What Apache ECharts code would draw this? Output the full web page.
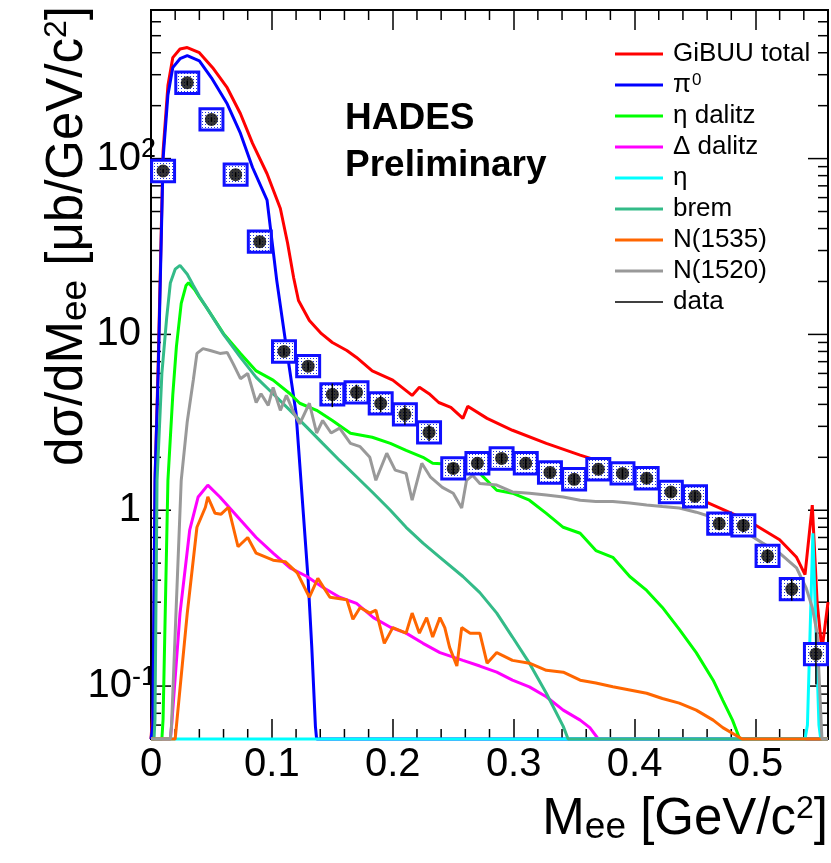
<!DOCTYPE html>
<html>
<head>
<meta charset="utf-8">
<script src="https://cdn.jsdelivr.net/npm/echarts@6/dist/echarts.min.js"></script>
<style>
  html, body { margin: 0; padding: 0; background: #fff; }
  #chart { width: 831px; height: 863px; }
</style>
</head>
<body>
<div id="chart"></div>
<script>
const FONT = '"Liberation Sans", Arial, Helvetica, sans-serif';
const X_MIN = 0, X_MAX = 0.56;
const Y_MIN = 0.05, Y_MAX = 700;

// GiBUU dielectron spectra, points are [M_ee (GeV/c^2), dsigma/dM_ee (ub/GeV/c^2)]
const gibuuTotal = [
  [0.000, 0], [0.002, 0.08], [0.0035, 1.6], [0.006, 7], [0.010, 110], [0.014, 260],
  [0.018, 375], [0.024, 420], [0.030, 428], [0.040, 400], [0.051, 329], [0.063, 253],
  [0.074, 180], [0.084, 122], [0.096, 82], [0.107, 52], [0.113, 33], [0.118, 21],
  [0.122, 15.6], [0.131, 12.0], [0.141, 10.1], [0.150, 9.0], [0.162, 8.1], [0.170, 7.4],
  [0.183, 6.2], [0.200, 5.5], [0.216, 4.5], [0.222, 5.0], [0.230, 4.6], [0.238, 4.1],
  [0.248, 3.85], [0.258, 3.33], [0.262, 3.9], [0.278, 3.33], [0.299, 2.85], [0.327, 2.4],
  [0.355, 2.06], [0.382, 1.80], [0.410, 1.54], [0.437, 1.30], [0.465, 1.07], [0.493, 0.88],
  [0.520, 0.68], [0.534, 0.54], [0.541, 0.43], [0.547, 1.07], [0.551, 0.30], [0.555, 0.16],
  [0.560, 0.30]
];
const pi0 = [
  [0.000, 0], [0.0015, 0.06], [0.0033, 1.5], [0.006, 6.2], [0.010, 100], [0.014, 230],
  [0.018, 329], [0.024, 370], [0.030, 385], [0.040, 360], [0.050, 288], [0.063, 205],
  [0.074, 139], [0.084, 89], [0.096, 58], [0.104, 20.3], [0.112, 8.4], [0.120, 3.56],
  [0.126, 0.96], [0.130, 0.40], [0.133, 0.166], [0.136, 0.059], [0.137, 0], [0.560, 0]
];
const etaDalitz = [
  [0.000, 0], [0.009, 0], [0.010, 0.065], [0.014, 1.48], [0.018, 4.5], [0.021, 8.5],
  [0.025, 15], [0.029, 19], [0.031, 19.7], [0.036, 18], [0.040, 16.3], [0.046, 14.2],
  [0.060, 10.1], [0.074, 7.8], [0.087, 6.2], [0.101, 5.5], [0.115, 4.6], [0.123, 4.06],
  [0.137, 3.7], [0.150, 3.24], [0.165, 2.74], [0.183, 2.6], [0.198, 2.4], [0.211, 2.19],
  [0.225, 2.0], [0.233, 1.85], [0.240, 1.84], [0.247, 1.69], [0.255, 1.55], [0.261, 1.69],
  [0.272, 1.62], [0.286, 1.30], [0.299, 1.25], [0.313, 1.14], [0.327, 0.96], [0.341, 0.80],
  [0.355, 0.74], [0.368, 0.59], [0.382, 0.54], [0.396, 0.42], [0.410, 0.35], [0.423, 0.28],
  [0.437, 0.21], [0.451, 0.155], [0.465, 0.108], [0.473, 0.083], [0.481, 0.064],
  [0.487, 0.05], [0.488, 0], [0.560, 0]
];
const deltaDalitz = [
  [0.000, 0], [0.016, 0], [0.017, 0.059], [0.024, 0.26], [0.032, 0.77], [0.039, 1.19],
  [0.047, 1.39], [0.057, 1.19], [0.074, 0.88], [0.087, 0.70], [0.101, 0.57], [0.115, 0.47],
  [0.129, 0.42], [0.142, 0.365], [0.156, 0.32], [0.170, 0.295], [0.184, 0.245],
  [0.198, 0.216], [0.211, 0.20], [0.225, 0.175], [0.239, 0.155], [0.258, 0.14],
  [0.272, 0.13], [0.286, 0.12], [0.299, 0.108], [0.313, 0.099], [0.327, 0.087],
  [0.341, 0.073], [0.355, 0.064], [0.363, 0.058], [0.370, 0.05], [0.371, 0], [0.560, 0]
];
const etaDirect = [
  [0.000, 0], [0.541, 0], [0.543, 0.06], [0.5475, 0.74], [0.5525, 0.06], [0.554, 0], [0.560, 0]
];
const brem = [
  [0.000, 0], [0.0025, 0], [0.0033, 0.065], [0.005, 1.48], [0.009, 6], [0.013, 12.5],
  [0.016, 19.6], [0.020, 23.5], [0.024, 24.7], [0.030, 22], [0.035, 19], [0.040, 16.5],
  [0.046, 14.2], [0.060, 10], [0.074, 7.4], [0.087, 5.7], [0.101, 4.6], [0.115, 3.7],
  [0.129, 2.96], [0.142, 2.4], [0.156, 1.92], [0.170, 1.55], [0.184, 1.25], [0.198, 1.0],
  [0.211, 0.80], [0.225, 0.65], [0.239, 0.54], [0.258, 0.42], [0.272, 0.34], [0.286, 0.26],
  [0.299, 0.19], [0.313, 0.135], [0.327, 0.091], [0.341, 0.059], [0.345, 0.05],
  [0.346, 0], [0.560, 0]
];
const n1535 = [
  [0.000, 0], [0.020, 0], [0.021, 0.059], [0.030, 0.26], [0.038, 0.8], [0.045, 1.04],
  [0.047, 1.19], [0.053, 0.96], [0.058, 0.95], [0.064, 1.04], [0.072, 0.62], [0.080, 0.70],
  [0.087, 0.57], [0.101, 0.52], [0.111, 0.51], [0.121, 0.44], [0.131, 0.32], [0.138, 0.41],
  [0.148, 0.32], [0.162, 0.31], [0.167, 0.24], [0.173, 0.28], [0.181, 0.26], [0.186, 0.27],
  [0.193, 0.175], [0.200, 0.215], [0.211, 0.20], [0.216, 0.26], [0.222, 0.20], [0.228, 0.245],
  [0.233, 0.19], [0.239, 0.245], [0.243, 0.215], [0.247, 0.166], [0.253, 0.13], [0.257, 0.215],
  [0.264, 0.20], [0.272, 0.20], [0.278, 0.135], [0.286, 0.155], [0.299, 0.14], [0.313, 0.135],
  [0.327, 0.123], [0.341, 0.12], [0.355, 0.108], [0.368, 0.104], [0.382, 0.099],
  [0.396, 0.095], [0.410, 0.091], [0.423, 0.085], [0.437, 0.080], [0.451, 0.073],
  [0.465, 0.064], [0.473, 0.058], [0.489, 0.05], [0.490, 0], [0.560, 0]
];
const n1520 = [
  [0.000, 0], [0.016, 0], [0.017, 0.06], [0.025, 1.48], [0.030, 3.2], [0.035, 5.5],
  [0.038, 7.8], [0.043, 8.3], [0.049, 8.1], [0.057, 7.8], [0.063, 7.9], [0.068, 6.8],
  [0.074, 5.6], [0.080, 6.0], [0.087, 4.1], [0.091, 4.6], [0.097, 3.95], [0.101, 5.0],
  [0.107, 3.7], [0.112, 4.5], [0.118, 3.6], [0.123, 3.1], [0.131, 4.06], [0.137, 2.75],
  [0.142, 3.24], [0.149, 2.75], [0.156, 2.93], [0.165, 2.4], [0.173, 2.3], [0.181, 2.0],
  [0.186, 1.48], [0.195, 2.11], [0.202, 1.69], [0.211, 1.62], [0.216, 1.14], [0.224, 1.85],
  [0.231, 1.55], [0.241, 1.35], [0.250, 1.25], [0.257, 1.03], [0.261, 1.48], [0.266, 1.58],
  [0.272, 1.42], [0.286, 1.39], [0.299, 1.27], [0.313, 1.25], [0.327, 1.22], [0.341, 1.19],
  [0.355, 1.14], [0.368, 1.12], [0.382, 1.12], [0.396, 1.10], [0.410, 1.07], [0.423, 1.05],
  [0.437, 1.03], [0.451, 0.975], [0.465, 0.91], [0.479, 0.84], [0.493, 0.74], [0.506, 0.65],
  [0.520, 0.57], [0.534, 0.47], [0.542, 0.36], [0.547, 0.28], [0.551, 0.20], [0.555, 0.05],
  [0.556, 0], [0.560, 0]
];

// HADES measurement: bin centres, cross section, statistical error, relative systematic error
const dataMass = [0.01, 0.03, 0.05, 0.07, 0.09, 0.11, 0.13, 0.15, 0.17, 0.19, 0.21, 0.23, 0.25, 0.27,
                  0.29, 0.31, 0.33, 0.35, 0.37, 0.39, 0.41, 0.43, 0.45, 0.47, 0.49, 0.51, 0.53, 0.55];
const dataXsec = [85, 270, 167, 81, 33.7, 8.0, 6.6, 4.56, 4.68, 4.05, 3.51, 2.77, 1.73, 1.85,
                  1.97, 1.85, 1.64, 1.50, 1.71, 1.62, 1.52, 1.27, 1.20, 0.84, 0.82, 0.55, 0.356, 0.152];
const dataStat = [2, 8, 5, 2.5, 1.2, 0.4, 0.35, 0.7, 0.5, 0.45, 0.45, 0.3, 0.12, 0.12,
                  0.12, 0.11, 0.1, 0.1, 0.1, 0.1, 0.1, 0.08, 0.08, 0.07, 0.07, 0.05, 0.05, 0.05];
const dataSysRel = [0.15, 0.15, 0.15, 0.15, 0.15, 0.15, 0.15, 0.15, 0.15, 0.15, 0.15, 0.15, 0.15, 0.15,
                    0.15, 0.15, 0.15, 0.15, 0.15, 0.15, 0.15, 0.15, 0.15, 0.15, 0.15, 0.15, 0.15, 0.15];

// tick positions not produced by the axes themselves
const xMinorTicks = [0.02, 0.04, 0.06, 0.08, 0.12, 0.14, 0.16, 0.18, 0.22, 0.24, 0.26, 0.28,
                     0.32, 0.34, 0.36, 0.38, 0.42, 0.44, 0.46, 0.48, 0.52, 0.54];
const yMajorTicks = [0.1, 1, 10, 100];
const yMinorTicks = [0.05, 0.06, 0.07, 0.08, 0.09, 0.2, 0.3, 0.4, 0.5, 0.6, 0.7, 0.8, 0.9,
                     2, 3, 4, 5, 6, 7, 8, 9, 20, 30, 40, 50, 60, 70, 80, 90, 200, 300, 400, 500, 600, 700];

const HALF_BIN = 0.0095;
const clipY = v => Math.min(Math.max(v, Y_MIN), Y_MAX);

// dotted fill used for the systematic-error boxes
const dotTile = document.createElement('canvas');
dotTile.width = 3; dotTile.height = 3;
(function () {
  const ctx = dotTile.getContext('2d');
  ctx.fillStyle = '#ffffff'; ctx.fillRect(0, 0, 3, 3);
  ctx.fillStyle = '#2233dd'; ctx.fillRect(1, 1, 1, 1);
})();
const dotPattern = { image: dotTile, repeat: 'repeat' };

function curve(name, pts, color) {
  return {
    name, type: 'line', color,
    data: pts.map(p => [p[0], clipY(p[1])]),
    symbol: 'none', smooth: false, clip: false,
    lineStyle: { color, width: 3 },
    z: 2, silent: true
  };
}

const lineIcon = 'path://M0,0H16V1H0Z';
const thinIcon = 'path://M0,0H30V1H0Z';
const titleRich = {
  sub: { fontFamily: FONT, fontSize: 37, fill: '#000', verticalAlign: 'bottom', padding: [16, 0, 0, 0] },
  sup: { fontFamily: FONT, fontSize: 32, fill: '#000', verticalAlign: 'top', padding: [0, 0, 20, 0] }
};

const chart = echarts.init(document.getElementById('chart'), null, { renderer: 'canvas' });
chart.setOption({
  animation: false,
  backgroundColor: '#fff',
  grid: { left: 151, right: 3, top: 10, bottom: 124, show: true, borderColor: '#000', borderWidth: 2, backgroundColor: 'transparent' },
  xAxis: [
    {
      type: 'value', min: X_MIN, max: X_MAX, interval: 0.1, position: 'bottom',
      axisLine: { show: false },
      axisTick: { show: true, inside: true, length: 20, lineStyle: { color: '#000', width: 1.5 } },
      splitLine: { show: false },
      axisLabel: {
        color: '#000', fontFamily: FONT, fontSize: 40, margin: 6, showMaxLabel: false,
        formatter: v => (v === 0 ? '0' : (+v).toFixed(1))
      }
    },
    {
      type: 'value', min: X_MIN, max: X_MAX, interval: 0.1, position: 'top',
      axisLine: { show: false },
      axisTick: { show: true, inside: true, length: 20, lineStyle: { color: '#000', width: 1.5 } },
      splitLine: { show: false }, axisLabel: { show: false }
    }
  ],
  yAxis: {
    type: 'log', logBase: 10, min: Y_MIN, max: Y_MAX,
    axisLine: { show: false }, axisTick: { show: false }, splitLine: { show: false },
    axisLabel: {
      color: '#000', fontFamily: FONT, fontSize: 40, margin: -5,
      formatter: v => {
        const lg = Math.log10(v), e = Math.round(lg);
        if (Math.abs(lg - e) > 1e-6) return '';
        if (e === 0) return '1{pad| }';
        if (e === 1) return '10{pad| }';
        return '10{sup|' + (e < 0 ? '-' : '') + Math.abs(e) + '}';
      },
      rich: {
        sup: { fontFamily: FONT, fontSize: 27, color: '#000', verticalAlign: 'top', padding: [0, 0, 18, 0] },
        pad: { fontFamily: FONT, fontSize: 27, width: 15 }
      }
    }
  },
  legend: {
    orient: 'vertical', left: 615, top: 41, itemWidth: 48, itemHeight: 3, itemGap: 5,
    symbolKeepAspect: true, padding: 0,
    itemStyle: { borderWidth: 0 },
    textStyle: {
      fontFamily: FONT, fontSize: 26, color: '#000', lineHeight: 26, padding: [0, 0, 0, 5],
      rich: { sup: { fontFamily: FONT, fontSize: 17, color: '#000', lineHeight: 10, verticalAlign: 'top', padding: [0, 0, 0, 1] } }
    },
    formatter: n => (n === 'π0' ? 'π{sup|0}' : n),
    data: [
      { name: 'GiBUU total', icon: lineIcon }, { name: 'π0', icon: lineIcon },
      { name: 'η dalitz', icon: lineIcon }, { name: 'Δ dalitz', icon: lineIcon },
      { name: 'η', icon: lineIcon }, { name: 'brem', icon: lineIcon },
      { name: 'N(1535)', icon: lineIcon }, { name: 'N(1520)', icon: lineIcon },
      { name: 'data', icon: thinIcon, itemStyle: { color: '#000' } }
    ]
  },
  graphic: [
    {
      type: 'text', x: 828, y: 820, silent: true,
      style: {
        text: 'M{sub|ee} [GeV/c{sup|2}]', fontFamily: FONT, fontSize: 51, fill: '#000',
        align: 'right', verticalAlign: 'middle', rich: titleRich
      }
    },
    {
      type: 'text', x: 68, y: 6, rotation: Math.PI / 2, silent: true,
      style: {
        text: 'dσ/dM{sub|ee} [μb/GeV/c{sup|2}]', fontFamily: FONT, fontSize: 51, fill: '#000',
        align: 'right', verticalAlign: 'middle', rich: titleRich
      }
    },
    {
      type: 'text', x: 345, y: 119, silent: true,
      style: { text: 'HADES', fontFamily: FONT, fontSize: 37, fontWeight: 'bold', fill: '#000', verticalAlign: 'middle' }
    },
    {
      type: 'text', x: 345, y: 166, silent: true,
      style: { text: 'Preliminary', fontFamily: FONT, fontSize: 37, fontWeight: 'bold', fill: '#000', verticalAlign: 'middle' }
    }
  ],
  series: [
    curve('GiBUU total', gibuuTotal, '#ff0000'),
    curve('π0', pi0, '#0000ff'),
    curve('η dalitz', etaDalitz, '#00ff00'),
    curve('Δ dalitz', deltaDalitz, '#ff00ff'),
    curve('η', etaDirect, '#00ffff'),
    curve('brem', brem, '#33bb88'),
    curve('N(1535)', n1535, '#ff6600'),
    curve('N(1520)', n1520, '#999999'),
    {
      // systematic-error boxes
      name: 'data', type: 'custom', silent: true, z: 5,
      color: '#000', itemStyle: { color: '#000' },
      data: dataMass.map((m, i) => [m, dataXsec[i], dataSysRel[i]]),
      renderItem: (params, api) => {
        const x = api.value(0), y = api.value(1), s = api.value(2);
        const p1 = api.coord([x - HALF_BIN, y * (1 + s)]);
        const p2 = api.coord([x + HALF_BIN, y / (1 + s)]);
        return {
          type: 'rect',
          shape: { x: p1[0], y: p1[1], width: p2[0] - p1[0], height: p2[1] - p1[1] },
          style: { fill: dotPattern, stroke: '#1010ff', lineWidth: 3 }
        };
      }
    },
    {
      // statistical error bars
      name: 'data', type: 'custom', silent: true, z: 6,
      color: '#000', itemStyle: { color: '#000' },
      data: dataMass.map((m, i) => [m, dataXsec[i], dataStat[i]]),
      renderItem: (params, api) => {
        const x = api.value(0), y = api.value(1), e = api.value(2);
        const hi = api.coord([x, y + e]);
        const lo = api.coord([x, Math.max(y - e, Y_MIN)]);
        return { type: 'line', shape: { x1: hi[0], y1: hi[1], x2: lo[0], y2: lo[1] }, style: { stroke: '#000', lineWidth: 1.5 } };
      }
    },
    {
      name: 'data', type: 'scatter', silent: true, z: 7,
      symbol: 'circle', symbolSize: 13,
      color: '#000', itemStyle: { color: '#000' },
      data: dataMass.map((m, i) => [m, dataXsec[i]])
    },
    {
      // minor ticks of the mass axis, bottom and top
      type: 'custom', silent: true, z: 1,
      data: xMinorTicks.map(v => [v, 1]),
      renderItem: (params, api) => {
        const b = api.coord([api.value(0), Y_MIN]);
        const t = api.coord([api.value(0), Y_MAX]);
        return {
          type: 'group', children: [
            { type: 'line', shape: { x1: b[0], y1: b[1], x2: b[0], y2: b[1] - 10 }, style: { stroke: '#000', lineWidth: 1.5 } },
            { type: 'line', shape: { x1: t[0], y1: t[1], x2: t[0], y2: t[1] + 10 }, style: { stroke: '#000', lineWidth: 1.5 } }
          ]
        };
      }
    },
    {
      // logarithmic ticks of the cross-section axis, left and right
      type: 'custom', silent: true, z: 1,
      data: yMajorTicks.map(v => [0, v, 20]).concat(yMinorTicks.map(v => [0, v, 10])),
      renderItem: (params, api) => {
        const l = api.coord([X_MIN, api.value(1)]);
        const r = api.coord([X_MAX, api.value(1)]);
        const len = api.value(2);
        return {
          type: 'group', children: [
            { type: 'line', shape: { x1: l[0], y1: l[1], x2: l[0] + len, y2: l[1] }, style: { stroke: '#000', lineWidth: 1.5 } },
            { type: 'line', shape: { x1: r[0], y1: r[1], x2: r[0] - len, y2: r[1] }, style: { stroke: '#000', lineWidth: 1.5 } }
          ]
        };
      }
    }
  ]
});
</script>
</body>
</html>
